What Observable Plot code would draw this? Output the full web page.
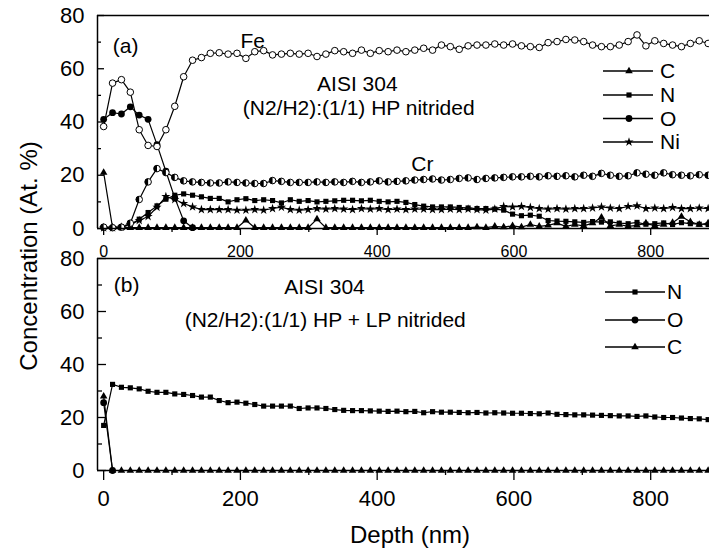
<!DOCTYPE html>
<html><head><meta charset="utf-8">
<script src="https://cdn.jsdelivr.net/npm/d3@7"></script>
<script src="https://cdn.jsdelivr.net/npm/@observablehq/plot@0.6"></script>
<style>
body{margin:0;background:#fff;}
#chart{position:relative;width:709px;height:552px;overflow:hidden;font-family:"Liberation Sans",Arial,Helvetica,sans-serif;color:#000;}
#chart svg{position:absolute;left:0;}
.ttl{position:absolute;font-size:24px;white-space:nowrap;line-height:1;}
</style></head><body><div id="chart"></div>
<script>
// ---------- data ----------
const depth = [0,13,26,39,52,65,78,91,104,117,130,143,156,169,182,195,208,221,234,247,260,273,286,299,312,325,338,351,364,377,390,403,416,429,442,455,468,481,494,507,520,533,546,559,572,585,598,611,624,637,650,663,676,689,702,715,728,741,754,767,780,793,806,819,832,845,858,871,884];

// panel (a): HP nitrided
const feA = [38.3,54.6,55.9,51.2,37.1,31.2,30.8,37.1,45.9,57.0,63.2,64.2,65.8,66.0,65.5,65.8,63.9,66.4,66.8,65.2,65.5,65.8,65.5,65.8,64.6,65.5,66.8,66.4,65.8,67.0,65.8,66.8,66.4,67.0,66.4,67.0,67.7,67.0,68.9,68.3,67.3,68.6,68.9,68.9,69.3,68.9,69.3,68.6,68.3,68.0,69.8,70.2,71.0,70.8,70.2,68.9,68.3,68.3,68.9,70.2,72.7,68.6,70.5,69.5,68.9,68.3,69.5,70.5,69.5];
const crA = [0.5,0.3,0.5,2.0,10.9,17.5,22.5,21.0,19.2,17.9,17.5,17.3,17.1,17.1,17.5,17.3,17.1,16.9,16.9,18.0,17.7,17.3,17.3,17.3,17.5,17.3,17.5,17.3,17.7,17.3,17.5,17.9,17.5,17.7,17.9,18.2,18.4,18.6,18.2,18.4,18.8,19.0,18.4,18.8,19.0,19.2,19.4,19.4,19.6,19.4,19.8,19.6,19.8,19.4,20.0,19.6,20.7,20.0,19.6,19.8,20.9,20.4,20.0,20.9,20.2,20.0,19.8,20.2,20.0];
const oA = [41.0,43.5,43.0,45.7,42.6,41.0,31.5,21.5,11.5,2.9,0.3,null,null,null,null,null,null,null,null,null,null,null,null,null,null,null,null,null,null,null,null,null,null,null,null,null,null,null,null,null,null,null,null,null,null,null,null,null,null,null,null,null,null,null,null,null,null,null,null,null,null,null,null,null,null,null,null,null,null];
const nA = [0.3,0.3,0.5,1.5,3.5,6.0,8.5,11.0,12.5,13.0,12.5,11.9,11.3,11.3,10.0,10.8,11.2,10.5,10.8,10.5,9.6,10.8,10.2,10.5,10.0,10.2,10.4,10.6,10.6,10.4,10.6,10.2,10.0,10.2,9.8,9.0,8.4,8.1,8.1,8.1,7.9,7.7,7.5,7.5,7.3,6.9,5.4,4.8,5.0,4.6,3.0,2.8,2.7,2.5,2.3,2.6,2.4,2.5,2.0,1.8,2.3,1.6,1.8,2.1,1.5,2.2,1.8,1.6,1.5];
const niA = [0.3,0.3,0.5,1.5,3.0,4.5,8.0,12.0,10.9,9.4,8.1,7.1,7.1,7.1,7.1,6.9,6.9,7.1,6.9,7.5,8.0,7.1,6.9,7.1,7.5,7.3,7.5,7.3,7.1,7.5,7.3,7.5,7.1,7.3,7.1,7.3,7.3,7.1,7.1,7.3,7.1,7.3,7.1,6.9,7.3,8.3,8.1,8.3,7.9,7.5,7.3,7.5,7.3,7.5,7.5,7.7,8.1,7.7,7.5,8.3,8.5,7.5,7.7,7.5,7.9,7.5,7.5,7.7,7.5];
const cA = [21.0,0.3,0.3,0.3,0.3,0.3,0.3,0.3,0.3,0.3,0.3,0.3,0.3,0.3,0.3,0.3,3.1,0.3,0.3,0.3,0.3,0.3,0.3,0.3,3.5,0.3,0.3,0.3,0.3,0.3,0.3,0.3,0.3,0.3,0.3,0.3,0.3,0.3,0.3,0.3,0.3,0.3,0.5,0.3,0.8,0.5,1.0,0.5,1.5,0.8,1.2,2.0,0.8,1.5,1.0,2.0,4.2,1.0,1.5,0.8,1.2,2.0,1.0,1.5,2.2,4.5,2.5,1.5,2.0];

// panel (b): HP + LP nitrided
const nB = [17.0,32.5,31.4,31.2,30.8,29.9,29.5,29.5,28.9,28.7,28.3,27.7,27.7,26.4,25.6,25.8,25.4,24.9,24.3,24.3,24.3,24.3,23.4,23.6,23.6,23.4,23.0,22.7,22.6,22.6,22.5,22.4,22.3,22.4,22.2,22.3,21.8,22.2,22.0,22.0,21.9,21.8,21.9,21.7,21.8,21.7,21.6,21.6,21.5,21.4,21.7,21.2,21.1,21.0,21.0,20.9,20.8,20.7,20.6,20.6,20.4,20.6,20.2,20.0,20.0,19.8,19.6,19.5,19.2];
const oB = [25.6,0.0,null,null,null,null,null,null,null,null,null,null,null,null,null,null,null,null,null,null,null,null,null,null,null,null,null,null,null,null,null,null,null,null,null,null,null,null,null,null,null,null,null,null,null,null,null,null,null,null,null,null,null,null,null,null,null,null,null,null,null,null,null,null,null,null,null,null,null];
const cB = [28.0,0,0,0,0,0,0,0,0,0,0,0,0,0,0,0,0,0,0,0,0,0,0,0,0,0,0,0,0,0,0,0,0,0,0,0,0,0,0,0,0,0,0,0,0,0,0,0,0,0,0,0,0,0,0,0,0,0,0,0,0,0,0,0,0,0,0,0,0];

// ticks and labels
const xTicksMajor = [0,200,400,600,800];
const xTicksMinor = [100,300,500,700];
const yTicksMajor = [0,20,40,60,80];
const yTicksMinor = [10,30,50,70];
const legendA = ["C","N","O","Ni"];
const legendB = ["N","O","C"];
const notesA = [
  {x:32, y:68.4, text:"(a)"},
  {x:218, y:70.2, text:"Fe"},
  {x:371, y:54.3, text:"AISI 304"},
  {x:373, y:45.3, text:"(N2/H2):(1/1) HP nitrided"},
  {x:466, y:24.2, text:"Cr"}
];
const notesB = [
  {x:33.6, y:69.8, text:"(b)"},
  {x:323, y:69.2, text:"AISI 304"},
  {x:324, y:56.6, text:"(N2/H2):(1/1) HP + LP nitrided"}
];

// ---------- drawing ----------
const W = 709, ML = 97;
const plotW = W - ML;
const FONT = '"Liberation Sans", Arial, Helvetica, sans-serif';
const series = arr => depth.map((d, i) => ({x: d, y: arr[i]}));

const halfDisk = {
  draw(ctx, size) {
    const r = Math.sqrt(size / Math.PI);
    ctx.moveTo(0, -r);
    ctx.arc(0, 0, r, -Math.PI / 2, Math.PI / 2, true);
    ctx.closePath();
  }
};

const sym = {
  C: {symbol: "triangle", r: 2.8, fill: "black"},
  N: {symbol: "square", r: 2.9, fill: "black"},
  O: {symbol: "circle", r: 3.4, fill: "black"},
  Ni: {symbol: "star", r: 2.9, fill: "black"}
};

function seriesMarks(arr, spec) {
  const data = series(arr);
  return [
    Plot.line(data, {x: "x", y: "y", stroke: "black", strokeWidth: 1.2}),
    Plot.dot(data, {x: "x", y: "y", symbol: spec.symbol, r: spec.r, fill: spec.fill, stroke: "none"})
  ];
}

function axesMarks(opts) {
  return [
    Plot.ruleY([80], {stroke: "black", strokeWidth: 1.5}),
    Plot.ruleY([0], {stroke: "black", strokeWidth: 1.5}),
    Plot.ruleX([-9], {stroke: "black", strokeWidth: 1.5}),
    Plot.tickY(yTicksMajor, {y: d => d, insetRight: plotW - opts.yMaj, stroke: "black", strokeWidth: 1.3}),
    Plot.tickY(yTicksMinor, {y: d => d, insetRight: plotW - opts.yMin, stroke: "black", strokeWidth: 1.3}),
    Plot.axisY(yTicksMajor, {tickSize: 0, tickPadding: 13, fontSize: 22, label: null, tickFormat: d => d}),
    Plot.axisX(xTicksMajor, {tickSize: opts.xMaj, tickPadding: opts.xPad, fontSize: opts.xFont, label: null, tickFormat: d => d, strokeWidth: 1.3}),
    Plot.axisX(xTicksMinor, {tickSize: opts.xMin, label: null, tickFormat: () => "", strokeWidth: 1.3})
  ];
}

function addLegend(svg, names, x1, x2, xm, xl, ys) {
  const g = d3.select(svg).append("g");
  names.forEach((n, i) => {
    const s = sym[n];
    const y = ys[i];
    g.append("line").attr("x1", x1).attr("x2", x2).attr("y1", y).attr("y2", y)
      .attr("stroke", "black").attr("stroke-width", 1.3);
    const type = {triangle: d3.symbolTriangle, square: d3.symbolSquare, circle: d3.symbolCircle, star: d3.symbolStar}[s.symbol];
    g.append("path").attr("transform", `translate(${xm},${y})`)
      .attr("d", d3.symbol(type, Math.PI * s.r * s.r)()).attr("fill", "black");
    g.append("text").attr("x", xl).attr("y", y).attr("dy", "0.35em")
      .attr("text-anchor", "start")
      .attr("font-size", 21).attr("font-family", FONT).attr("fill", "black").text(n);
  });
}

const chart = document.getElementById("chart");

// panel (a)
const svgA = Plot.plot({
  width: W, height: 258,
  marginTop: 15, marginBottom: 30, marginLeft: ML, marginRight: 0,
  x: {domain: [-9, 886], label: null},
  y: {domain: [0, 80], label: null},
  style: {fontFamily: FONT, background: "transparent", overflow: "visible", color: "black"},
  marks: [
    ...seriesMarks(cA, sym.C),
    ...seriesMarks(oA, sym.O),
    ...seriesMarks(niA, sym.Ni),
    ...seriesMarks(nA, sym.N),
    Plot.line(series(crA), {x: "x", y: "y", stroke: "black", strokeWidth: 1.2}),
    Plot.dot(series(crA), {x: "x", y: "y", r: 3.3, fill: "white", stroke: "black", strokeWidth: 1}),
    Plot.dot(series(crA), {x: "x", y: "y", r: 3.3, symbol: halfDisk, fill: "black", stroke: "none"}),
    Plot.line(series(feA), {x: "x", y: "y", stroke: "black", strokeWidth: 1.2}),
    Plot.dot(series(feA), {x: "x", y: "y", r: 3.3, fill: "white", stroke: "black", strokeWidth: 1}),
    Plot.text(notesA, {x: "x", y: "y", text: "text", fontSize: 21, fill: "black", textAnchor: "middle"}),
    ...axesMarks({yMaj: 7, yMin: 4, xMaj: 7, xMin: 4, xPad: 10, xFont: 16})
  ]
});
svgA.style.top = "0px";
chart.appendChild(svgA);
addLegend(svgA, legendA, 603, 653, 629, 660, [71, 95, 118.5, 142]);

// panel (b)
const topB = 250;
const svgB = Plot.plot({
  width: W, height: 302,
  marginTop: 8, marginBottom: 82, marginLeft: ML, marginRight: 0,
  x: {domain: [-9, 886], label: null},
  y: {domain: [0, 80], label: null},
  style: {fontFamily: FONT, background: "transparent", overflow: "visible", color: "black"},
  marks: [
    ...seriesMarks(nB, sym.N),
    ...seriesMarks(oB, sym.O),
    ...seriesMarks(cB, sym.C),
    Plot.text(notesB, {x: "x", y: "y", text: "text", fontSize: 21, fill: "black", textAnchor: "middle"}),
    ...axesMarks({yMaj: 9, yMin: 5, xMaj: 10, xMin: 5, xPad: 10, xFont: 22})
  ]
});
svgB.style.top = topB + "px";
chart.appendChild(svgB);
addLegend(svgB, legendB, 605, 665, 635, 667, [292 - topB, 320 - topB, 347 - topB]);

// axis titles
const yt = document.createElement("div");
yt.className = "ttl";
yt.textContent = "Concentration (At. %)";
yt.style.left = "29px"; yt.style.top = "256px";
yt.style.transform = "translate(-50%,-50%) rotate(-90deg)";
chart.appendChild(yt);

const xt = document.createElement("div");
xt.className = "ttl";
xt.textContent = "Depth (nm)";
xt.style.left = "410px"; xt.style.top = "535px";
xt.style.transform = "translate(-50%,-50%)";
chart.appendChild(xt);
</script></body></html>
